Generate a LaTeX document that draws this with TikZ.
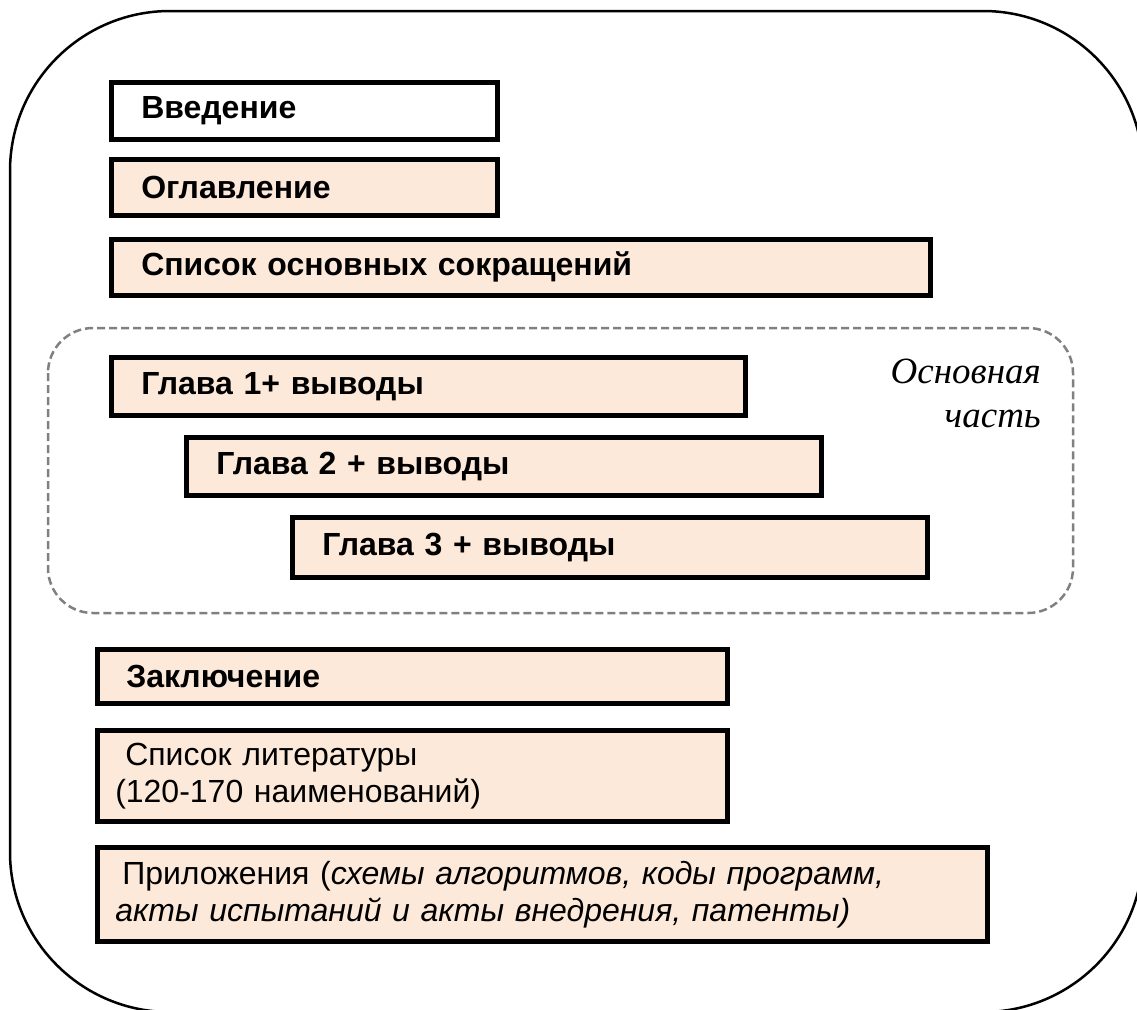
\documentclass[tikz,border=0pt]{standalone}
\usepackage{fontspec}
\setmainfont{Liberation Sans}
\newfontfamily\labelfont{Liberation Serif}
\usepackage{tikz}
\definecolor{peach}{RGB}{253,233,217}
\definecolor{dashgray}{RGB}{128,128,128}
\newcommand{\partfont}{\fontsize{32}{37}\selectfont}

\begin{document}
\begin{tikzpicture}[x=1pt,y=-1pt,
	part/.style={draw=black, line width=4.5pt, fill=peach, anchor=north west,
		inner xsep=30pt, inner ysep=0pt, align=left, text width=#1, font=\partfont},
	bpart/.style={part=#1, font=\partfont\bfseries}]
	\useasboundingbox (0,0) rectangle (1137,1009);
	\clip (0,0) rectangle (1137,1009);
	% the outer frame
	\draw[line width=2.5pt, rounded corners=160pt] (10,11) rectangle (1143,1012);
	%% the parts before the chapters
	\node[bpart=326, fill=white, minimum height=57] (intro) at (109,80) {Введение};
	\node[bpart=326, minimum height=56] (toc) at (109,157) {Оглавление};
	\node[bpart=759, minimum height=56] (abbr) at (109,237) {Список основных сокращений};
	%% the main part
	\draw[dashgray, line width=2.5pt, dash pattern=on 8pt off 4pt, rounded corners=45pt] (48,328) rectangle (1073,613);
	\node[font=\labelfont\itshape\fontsize{37}{44}\selectfont, align=right, anchor=north east, inner sep=0pt] (mainlbl) at (1041,359) {Основная\\часть};
	\node[bpart=574, minimum height=58] (ch1) at (109,355) {Глава 1+ выводы};
	\node[bpart=575, minimum height=58] (ch2) at (184,435) {Глава 2 + выводы};
	\node[bpart=575, minimum height=60] (ch3) at (290,515) {Глава 3 + выводы};
	%% the parts after the chapters
	\node[bpart=572, inner xsep=29pt, minimum height=54] (concl) at (95,647) {Заключение};
	\node[part=594, inner xsep=18pt, minimum height=91] (refs) at (95,728) {\hspace*{10pt}Список литературы\\(120-170 наименований)};
	\node[part=854, inner xsep=18pt, minimum height=94] (appx) at (95,845) {\hspace*{7pt}Приложения (\textit{схемы алгоритмов, коды программ,}\\\textit{акты испытаний и акты внедрения, патенты)}};
\end{tikzpicture}
\end{document}
